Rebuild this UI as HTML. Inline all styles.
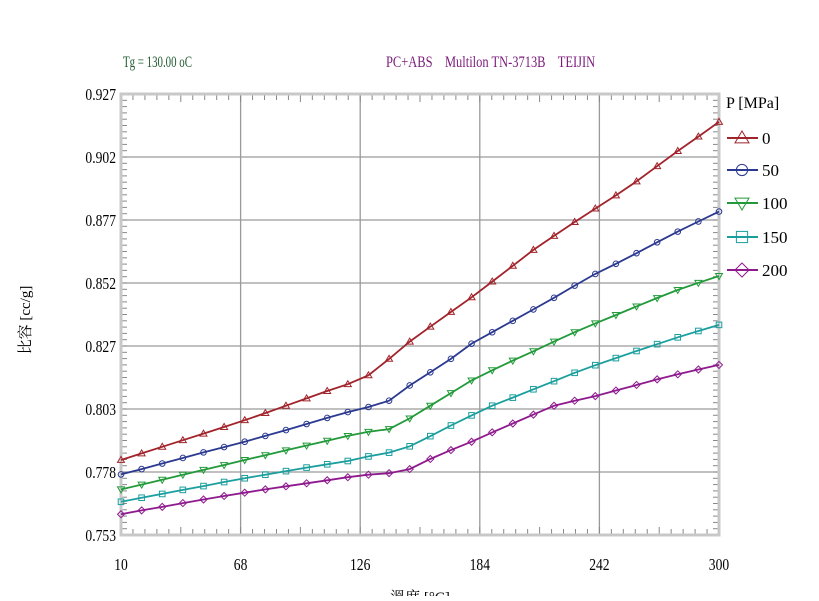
<!DOCTYPE html>
<html><head><meta charset="utf-8"><style>
html,body{margin:0;padding:0;background:#fff;}
svg text{font-family:"Liberation Serif","Noto Serif CJK SC",serif;}
</style></head><body>
<svg id="chart" width="819" height="596" viewBox="0 0 819 596" xmlns="http://www.w3.org/2000/svg">
<text transform="translate(123,67) scale(0.68,1)" x="0" y="0" font-size="16" fill="#1e5a2e">Tg = 130.00 oC</text>
<text transform="translate(386,67) scale(0.78,1)" x="0" y="0" font-size="16" fill="#7a1a7a" xml:space="preserve">PC+ABS    Multilon TN-3713B    TEIJIN</text>
<g id="grid"></g>
<g id="ticks"></g>
<rect x="121" y="94" width="598" height="441" fill="none" stroke="#c8c8c8" stroke-width="3"/>
<g id="series"></g>
<g id="labels"></g>
<text transform="translate(30,320) rotate(-90)" text-anchor="middle" font-size="15" fill="#000">比容 [cc/g]</text>
<text x="420" y="602" text-anchor="middle" font-size="15" fill="#000">溫度 [°C]</text>
<g id="legend"></g>
</svg>
<script>
const temps=[10,20,30,40,50,60,70,80,90,100,110,120,130,140,150,160,170,180,190,200,210,220,230,240,250,260,270,280,290,300];
const p0=[.7826,.7852,.7878,.7904,.7930,.7956,.7983,.8011,.8040,.8069,.8098,.8125,.8160,.8225,.8293,.8352,.8410,.8468,.8530,.8592,.8655,.8710,.8765,.8818,.8870,.8925,.8985,.9045,.9102,.9160];
const p50=[.7769,.7790,.7812,.7834,.7856,.7877,.7898,.7921,.7944,.7968,.7992,.8015,.8035,.8060,.8120,.8172,.8225,.8285,.8330,.8375,.8420,.8466,.8514,.8560,.8600,.8642,.8685,.8727,.8767,.8806];
const p100=[.7710,.7729,.7748,.7768,.7787,.7806,.7826,.7845,.7864,.7883,.7902,.7921,.7937,.7948,.7990,.8040,.8090,.8140,.8180,.8218,.8255,.8293,.8330,.8365,.8398,.8432,.8465,.8497,.8525,.8552];
const p150=[.7661,.7677,.7692,.7708,.7723,.7739,.7754,.7768,.7782,.7796,.7809,.7822,.7840,.7855,.7880,.7920,.7962,.8002,.8040,.8072,.8105,.8137,.8170,.8200,.8228,.8256,.8283,.8310,.8335,.8359];
const p200=[.7612,.7627,.7641,.7656,.7670,.7684,.7697,.7710,.7722,.7734,.7746,.7758,.7768,.7774,.7790,.7830,.7865,.7898,.7935,.7970,.8005,.8040,.8060,.8078,.8100,.8122,.8144,.8164,.8183,.8201];
const xTicks=[10,68,126,184,242,300];
const yTickLabels=["0.753","0.778","0.803","0.827","0.852","0.877","0.902","0.927"];
const seriesNames=["0","50","100","150","200"];
const X0=121,X1=719,Y0=535,Y1=94,TMIN=10,TMAX=300,VMIN=0.753,VMAX=0.927;
const NS="http://www.w3.org/2000/svg";
function sx(t){return X0+(t-TMIN)/(TMAX-TMIN)*(X1-X0);}
function sy(v){return Y0-(v-VMIN)/(VMAX-VMIN)*(Y0-Y1);}
function mk(tag,attrs,parent){const e=document.createElementNS(NS,tag);for(const k in attrs)e.setAttribute(k,attrs[k]);parent.appendChild(e);return e;}
const grid=document.getElementById('grid'),ticks=document.getElementById('ticks'),labels=document.getElementById('labels');
xTicks.forEach((t,i)=>{
  const l=mk('line',{x1:sx(t),x2:sx(t),y1:Y1,y2:Y0,stroke:'#9a9a9a','stroke-width':1.3},grid);
  
  
  const tx=mk('text',{x:sx(t),y:570,'text-anchor':'middle','font-size':17,fill:'#000',transform:`translate(${sx(t)},0) scale(0.8,1) translate(${-sx(t)},0)`},labels);
  tx.textContent=t;
  
  
});
yTickLabels.forEach((s,i)=>{
  const y=Y0-i*(Y0-Y1)/(yTickLabels.length-1);
  const l=mk('line',{x1:X0,x2:X1,y1:y,y2:y,stroke:'#9a9a9a','stroke-width':1.3},grid);
  
  
  const tx=mk('text',{x:116,y:y+6,'text-anchor':'end','font-size':17,fill:'#000',transform:'translate(116,0) scale(0.8,1) translate(-116,0)'},labels);
  tx.textContent=s;
  
  
});
for(let i=1;i<50;i++){
  const x=X0+i*(X1-X0)/50; const len=(i%5==0)?8:6;
  mk('line',{x1:x,x2:x,y1:Y1,y2:Y1+len,stroke:'#888','stroke-width':1},ticks);
  mk('line',{x1:x,x2:x,y1:Y0,y2:Y0-len,stroke:'#888','stroke-width':1},ticks);
}
for(let i=1;i<70;i++){
  const y=Y0-i*(Y0-Y1)/70;
  mk('line',{x1:X0,x2:X0+6,y1:y,y2:y,stroke:'#888','stroke-width':1},ticks);
  mk('line',{x1:X1,x2:X1-6,y1:y,y2:y,stroke:'#888','stroke-width':1},ticks);
}
const colors=['#a1232b','#2b3990','#229a3a','#1a9e9e','#8e1a8e'];
const allData=[p0,p50,p100,p150,p200];
function marker(k,x,y,c,parent,s){
  let e;
  if(k==0)e=mk('path',{d:`M${x},${y-s} L${x+s},${y+s*0.7} L${x-s},${y+s*0.7} Z`},parent);
  else if(k==1)e=mk('circle',{cx:x,cy:y,r:s*0.8},parent);
  else if(k==2)e=mk('path',{d:`M${x},${y+s} L${x+s},${y-s*0.7} L${x-s},${y-s*0.7} Z`},parent);
  else if(k==3)e=mk('rect',{x:x-s*0.8,y:y-s*0.8,width:s*1.6,height:s*1.6},parent);
  else e=mk('path',{d:`M${x},${y-s} L${x+s},${y} L${x},${y+s} L${x-s},${y} Z`},parent);
  e.setAttribute('fill','none');e.setAttribute('stroke',c);e.setAttribute('stroke-width',1);
  return e;
}
const series=document.getElementById('series');
allData.forEach((d,k)=>{
  const g=mk('g',{},series);
  
  
  const pts=d.map((v,i)=>sx(temps[i]).toFixed(1)+','+sy(v).toFixed(1)).join(' ');
  const pl=mk('polyline',{points:pts,fill:'none',stroke:colors[k],'stroke-width':1.8},g);
  
  
  d.forEach((v,i)=>{
    const m=marker(k,sx(temps[i]),sy(v),colors[k],g,3.5);
    
    
  });
});
const legend=document.getElementById('legend');
const lt=mk('text',{x:726,y:108,'font-size':16,fill:'#000'},legend);
lt.textContent='P [MPa]';


const ly=[138,170,203,237,270];
seriesNames.forEach((n,k)=>{
  const g=mk('g',{},legend);
  
  
  mk('line',{x1:727,x2:758,y1:ly[k],y2:ly[k],stroke:colors[k],'stroke-width':2},g);
  marker(k,742,ly[k],colors[k],g,7);
  const t=mk('text',{x:762,y:ly[k]+6,'font-size':17,fill:'#000'},g);
  t.textContent=n;
});
</script>
</body></html>
